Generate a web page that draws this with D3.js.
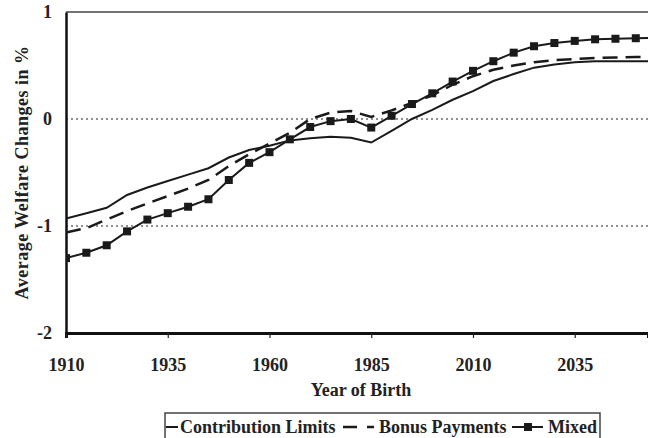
<!DOCTYPE html>
<html>
<head>
<meta charset="utf-8">
<script src="https://cdn.jsdelivr.net/npm/d3@7"></script>
<style>
  body { margin: 0; background: #fff; }
  text { font-family: "Liberation Serif", "Times New Roman", serif; font-weight: bold; fill: #222; }
</style>
</head>
<body>
<div id="chart"></div>
<script>
var years = d3.range(1910, 2056, 5);

var contribution = [-0.93, -0.88, -0.83, -0.71, -0.64, -0.58, -0.52, -0.46, -0.36, -0.29, -0.25, -0.2,
  -0.18, -0.165, -0.175, -0.22, -0.11, 0.0, 0.085, 0.18, 0.26, 0.355, 0.42, 0.48, 0.51, 0.53, 0.54, 0.54, 0.54, 0.54];
var bonus = [-1.06, -1.02, -0.94, -0.86, -0.79, -0.72, -0.65, -0.57, -0.44, -0.33, -0.23, -0.13,
  0.0, 0.06, 0.075, 0.02, 0.08, 0.15, 0.22, 0.32, 0.4, 0.46, 0.5, 0.53, 0.55, 0.56, 0.57, 0.575, 0.58, 0.58];
var mixed = [-1.3, -1.25, -1.18, -1.05, -0.94, -0.88, -0.82, -0.75, -0.57, -0.41, -0.31, -0.19,
  -0.075, -0.02, 0.0, -0.08, 0.03, 0.14, 0.24, 0.35, 0.45, 0.54, 0.62, 0.68, 0.71, 0.73, 0.745, 0.75, 0.755, 0.76];

var xTicks = [1910, 1935, 1960, 1985, 2010, 2035];
var yTicks = [1, 0, -1, -2];
var seriesNames = ["Contribution Limits", "Bonus Payments", "Mixed"];

var w = 648, h = 438;
var pLeft = 66, pRight = 648, pTop = 12, pBottom = 333;

var svg = d3.select("#chart").append("svg")
  .attr("width", w)
  .attr("height", h);

var x = d3.scaleLinear().domain([1910, 2053]).range([pLeft, pRight]);
var y = d3.scaleLinear().domain([-2, 1]).range([pBottom, pTop]);

svg.append("clipPath").attr("id", "clip")
  .append("rect").attr("x", pLeft).attr("y", 0).attr("width", pRight - pLeft).attr("height", pBottom);

// dotted reference lines
svg.selectAll(".grid").data([0, -1]).enter().append("line")
  .attr("x1", pLeft).attr("x2", pRight)
  .attr("y1", d => y(d)).attr("y2", d => y(d))
  .attr("stroke", "#222").attr("stroke-width", 1).attr("stroke-dasharray", "2,3");

// top frame line
svg.append("line")
  .attr("x1", pLeft).attr("x2", pRight).attr("y1", y(1)).attr("y2", y(1))
  .attr("stroke", "#444").attr("stroke-width", 1.5);

// axes
var xAxis = svg.append("g")
  .attr("transform", "translate(0," + pBottom + ")")
  .call(d3.axisBottom(x).tickValues(xTicks).tickFormat(d => String(d)).tickSize(5).tickPadding(20));
xAxis.select(".domain").attr("stroke", "#111").attr("stroke-width", 3);
xAxis.selectAll(".tick line").attr("stroke", "#222").attr("stroke-width", 1.2);
xAxis.selectAll("text").style("font-size", "18px").attr("fill", "#222");

var yAxis = svg.append("g")
  .attr("transform", "translate(" + pLeft + ",0)")
  .call(d3.axisLeft(y).tickValues(yTicks).tickFormat(d => String(d)).tickSize(0).tickPadding(14));
yAxis.select(".domain").attr("stroke", "#111").attr("stroke-width", 2.5);
yAxis.selectAll("text").style("font-size", "18px").attr("fill", "#222");

var line = d3.line().x((d, i) => x(years[i])).y(d => y(d));
var plot = svg.append("g").attr("clip-path", "url(#clip)");

plot.append("path").datum(contribution).attr("d", line)
  .attr("fill", "none").attr("stroke", "#1a1a1a").attr("stroke-width", 2);
plot.append("path").datum(bonus).attr("d", line)
  .attr("fill", "none").attr("stroke", "#1a1a1a").attr("stroke-width", 2.5).attr("stroke-dasharray", "15,8");
plot.append("path").datum(mixed).attr("d", line)
  .attr("fill", "none").attr("stroke", "#1a1a1a").attr("stroke-width", 2);
plot.selectAll(".mk").data(mixed).enter().append("rect")
  .attr("x", (d, i) => x(years[i]) - 4).attr("y", d => y(d) - 4)
  .attr("width", 8).attr("height", 8).attr("fill", "#1a1a1a");

// axis titles
svg.append("text")
  .attr("transform", "translate(28," + ((pTop + pBottom) / 2) + ") rotate(-90)")
  .attr("text-anchor", "middle").style("font-size", "18px").style("letter-spacing", "0.5px")
  .text("Average Welfare Changes in %");
svg.append("text")
  .attr("x", 361).attr("y", 396).attr("text-anchor", "middle").style("font-size", "18px")
  .text("Year of Birth");

// legend
var lg = svg.append("g");
lg.append("path").attr("d", "M165,450V413H600V450")
  .attr("fill", "none").attr("stroke", "#444").attr("stroke-width", 1.5);
var ly = 427;
lg.append("line").attr("x1", 166).attr("x2", 178).attr("y1", ly).attr("y2", ly)
  .attr("stroke", "#1a1a1a").attr("stroke-width", 2);
lg.append("text").attr("x", 180).attr("y", 433).style("font-size", "18px").text(seriesNames[0]);
lg.append("line").attr("x1", 343).attr("x2", 374).attr("y1", ly).attr("y2", ly)
  .attr("stroke", "#1a1a1a").attr("stroke-width", 2.5).attr("stroke-dasharray", "14,10");
lg.append("text").attr("x", 379).attr("y", 433).style("font-size", "18px").text(seriesNames[1]);
lg.append("line").attr("x1", 512).attr("x2", 543).attr("y1", ly).attr("y2", ly)
  .attr("stroke", "#1a1a1a").attr("stroke-width", 2);
lg.append("rect").attr("x", 524).attr("y", ly - 4).attr("width", 8).attr("height", 8).attr("fill", "#1a1a1a");
lg.append("text").attr("x", 548).attr("y", 433).style("font-size", "18px").text(seriesNames[2]);
</script>
</body>
</html>
